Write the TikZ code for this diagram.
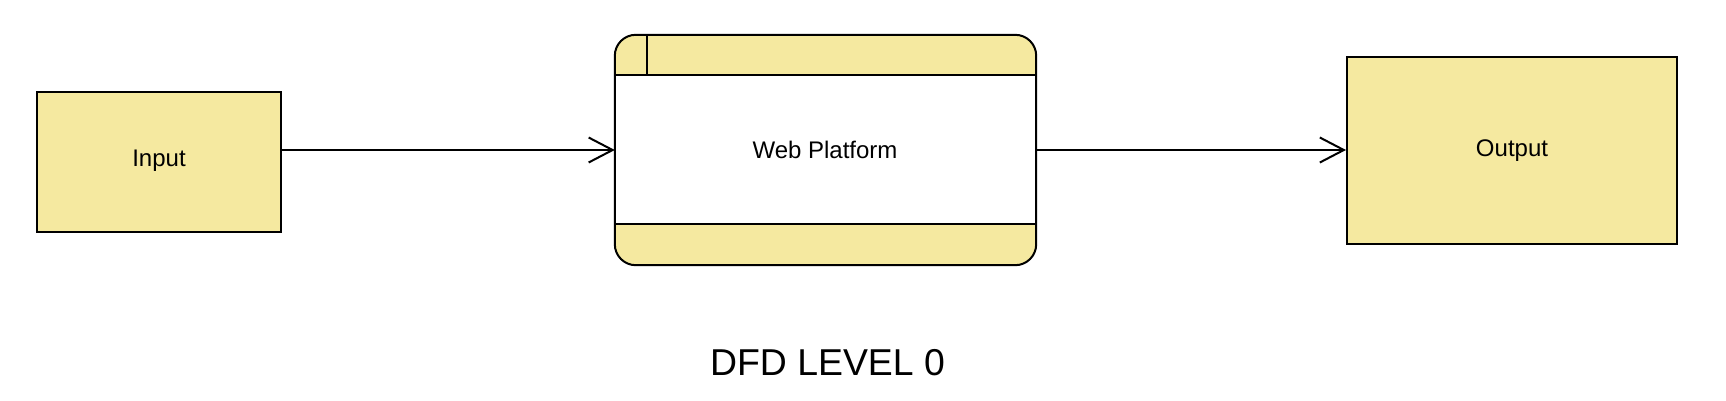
\documentclass[tikz,border=0pt]{standalone}
\usepackage{fontspec}
\setmainfont{Liberation Sans}
\usetikzlibrary{arrows.meta}
\definecolor{dfdyellow}{HTML}{F5E9A0}
\tikzset{
  entity/.style={draw=black, line width=2pt, fill=dfdyellow, inner sep=0pt,
    font=\fontsize{24}{28}\selectfont},
  flow/.style={draw=black, line width=2pt,
    -{Straight Barb[length=24pt,width=25pt,line width=2pt]}},
  lbl/.style={inner sep=0pt, font=\fontsize{24}{28}\selectfont},
}
\begin{document}
\begin{tikzpicture}[x=1pt,y=-1pt]
\useasboundingbox (0,0) rectangle (1726,400);
% Input
\node[entity, minimum width=244pt, minimum height=140pt] (input) at (159,162) {};
\node[lbl] (inputlbl) at (159,161) {Input};
% Output
\node[entity, minimum width=330pt, minimum height=187pt] (output) at (1512,150.5) {Output};
% Web Platform process
\node[minimum width=421pt, minimum height=230pt, inner sep=0pt] (web) at (825.5,150) {};
\fill[dfdyellow, rounded corners=21pt] (web.north west) rectangle (web.south east);
\fill[white] (615,75) rectangle (1036,224);
\draw[line width=2pt] (615,75) -- (1036,75);
\draw[line width=2pt] (615,224) -- (1036,224);
\draw[line width=2pt] (647,35) -- (647,75);
\draw[line width=2pt, rounded corners=21pt] (web.north west) rectangle (web.south east);
\node[lbl] (weblbl) at (825,150) {Web Platform};
% flows
\draw[flow] (web.west -| input.east) -- (web.west);
\draw[flow] (web.east) -- (output.west |- web.east);
% title
\node[inner sep=0pt, font=\fontsize{37.4}{42}\selectfont, anchor=base] (title) at (827.5,375) {DFD LEVEL 0};
\end{tikzpicture}
\end{document}
